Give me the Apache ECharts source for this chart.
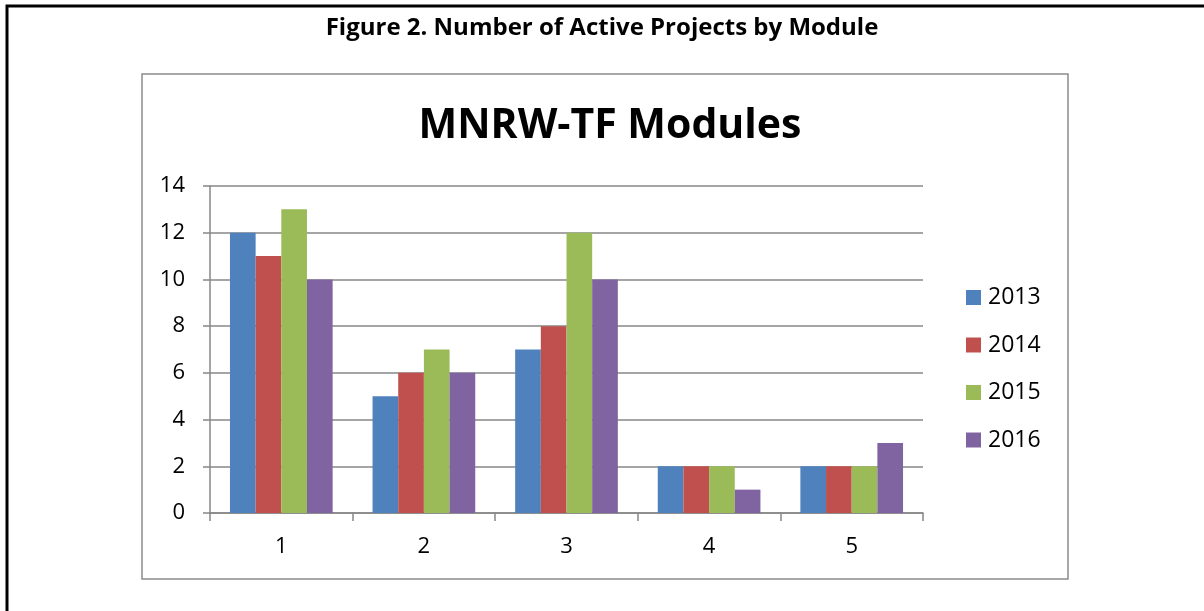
<!DOCTYPE html>
<html>
<head>
<meta charset="utf-8">
<script src="https://cdn.jsdelivr.net/npm/echarts@6/dist/echarts.min.js"></script>
<style>
  html, body { margin: 0; padding: 0; background: #fff; }
  #main { width: 1204px; height: 611px; }
</style>
</head>
<body>
<div id="main"></div>
<script>
// 数据
const modules = ['1', '2', '3', '4', '5'];
const years = ['2013', '2014', '2015', '2016'];
const y2013 = [12, 5, 7, 2, 2];
const y2014 = [11, 6, 8, 2, 2];
const y2015 = [13, 7, 12, 2, 2];
const y2016 = [10, 6, 10, 1, 3];
const colors = ['#4F81BD', '#C0504D', '#9BBB59', '#8064A2'];

const font = '"Open Sans", Lato, sans-serif';
let myChart = echarts.init(document.getElementById('main'));

let seriesList = [y2013, y2014, y2015, y2016].map((d, i) => ({
  name: years[i],
  type: 'bar',
  data: d,
  barGap: '0%',
  barCategoryGap: '28%',
  itemStyle: { color: colors[i] }
}));

let option = {
  backgroundColor: '#fff',
  animation: false,
  color: colors,
  title: [
    {
      text: 'Figure 2. Number of Active Projects by Module',
      left: 'center',
      top: 11,
      textStyle: { fontFamily: font, fontSize: 24, fontWeight: 'bold', color: '#000' }
    },
    {
      text: 'MNRW-TF Modules',
      left: 605,
      textAlign: 'center',
      top: 101,
      textStyle: { fontFamily: font, fontSize: 41, fontWeight: 'bold', color: '#000' }
    }
  ],
  legend: {
    orient: 'vertical',
    left: 966,
    top: 286,
    padding: 0,
    itemWidth: 15,
    itemHeight: 15,
    itemGap: 24.5,
    icon: 'rect',
    data: years,
    textStyle: { fontFamily: font, fontSize: 23, lineHeight: 20, color: '#000', padding: [0, 0, 0, 2] }
  },
  grid: {
    left: 210,
    right: 281,
    top: 186,
    bottom: 98,
    containLabel: false
  },
  xAxis: {
    type: 'category',
    data: modules,
    axisLine: { show: true, lineStyle: { color: '#878787', width: 1.5 } },
    axisTick: { show: true, alignWithLabel: false, length: 8, lineStyle: { color: '#878787', width: 1.5 } },
    axisLabel: { fontFamily: font, fontSize: 22, color: '#000', margin: 23 }
  },
  yAxis: {
    type: 'value',
    min: 0,
    max: 14,
    interval: 2,
    axisLine: { show: true, lineStyle: { color: '#878787', width: 1.5 } },
    axisTick: { show: true, length: 7, lineStyle: { color: '#878787', width: 1.5 } },
    axisLabel: { fontFamily: font, fontSize: 22, color: '#000', margin: 25 },
    // 网格线
    splitLine: { lineStyle: { color: '#878787', width: 1.5 } }
  },
  graphic: [
    // 外框（左、上）
    { type: 'polyline', shape: { points: [[7, 611], [7, 6], [1204, 6]] }, style: { stroke: '#000', lineWidth: 3, fill: null }, silent: true },
    // 图表框
    { type: 'rect', shape: { x: 142, y: 74, width: 926, height: 505 }, style: { stroke: '#8c8c8c', lineWidth: 1.5, fill: null }, silent: true }
  ],
  series: seriesList
};
myChart.setOption(option);
</script>
</body>
</html>
